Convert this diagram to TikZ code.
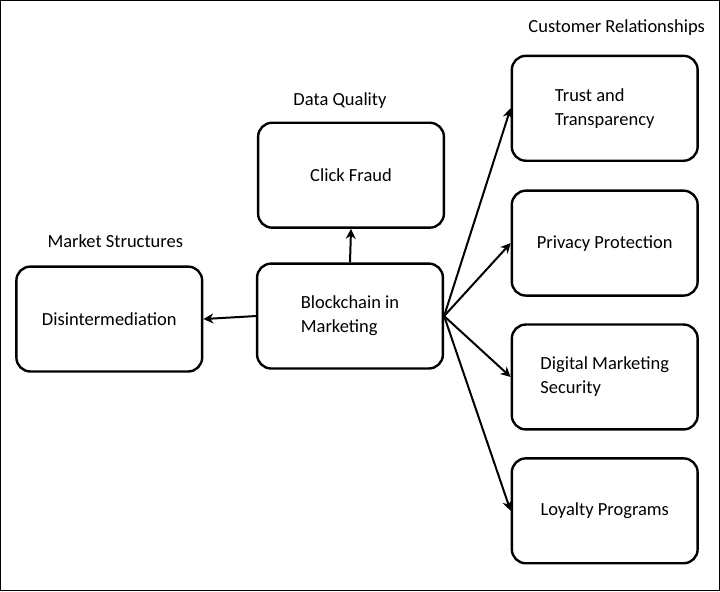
\documentclass[tikz,border=0pt]{standalone}
\usepackage{fontspec}
\setmainfont{Carlito}
\usetikzlibrary{arrows.meta}
\begin{document}
\begin{tikzpicture}[x=1pt,y=-1pt,
    box/.style={draw,line width=2.4pt,rounded corners=14pt,minimum width=186pt,minimum height=105pt,align=left,font=\fontsize{18.5}{24}\selectfont},
    head/.style={font=\fontsize{18.5}{22}\selectfont},
    link/.style={line width=2pt,-{Stealth[length=10pt,width=10pt]}}]

    \draw[line width=0.8pt] (0,0) rectangle (720,591);

    % boxes
    \node[box] (dis) at (109,319) {Disintermediation};
    \node[box] (bim) at (350,316) {Blockchain in\\Marketing};
    \node[box] (cf) at (351,175) {Click Fraud};
    \node[box] (tt) at (605,108) {Trust and\\Transparency};
    \node[box] (pp) at (605,243) {Privacy Protection};
    \node[box] (dms) at (605,377) {Digital Marketing\\Security};
    \node[box] (lp) at (605,511) {Loyalty Programs};

    % headings
    \node[head] (ms) at (115,241) {Market Structures};
    \node[head] (dq) at (340,100) {Data Quality};
    \node[head] (cr) at (617,27) {Customer Relationships};

    % arrows
    \draw[link] (bim.west) -- (dis.east);
    \draw[link] (bim.north) -- (cf.south);
    \foreach \t in {tt,pp,dms,lp}
        \draw[link] (bim.east) -- (\t.west);

\end{tikzpicture}
\end{document}
